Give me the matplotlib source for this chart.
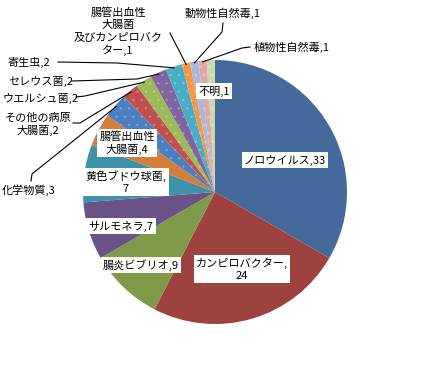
import numpy as np
import matplotlib
matplotlib.use("Agg")
import matplotlib.pyplot as plt

plt.rcParams['font.family'] = ['Noto Sans CJK JP', 'DejaVu Sans']
plt.rcParams['hatch.linewidth'] = 0.8

# data (clockwise from 12 o'clock)
names = ["ノロウイルス", "カンピロバクター", "腸炎ビブリオ", "サルモネラ", "黄色ブドウ球菌",
         "腸管出血性\n大腸菌", "化学物質", "その他の病原\n大腸菌", "ウエルシュ菌", "セレウス菌",
         "寄生虫", "腸管出血性\n大腸菌\n及びカンピロバク\nター", "動物性自然毒", "植物性自然毒", "不明"]
values = [33, 24, 9, 7, 7, 4, 3, 2, 2, 2, 2, 1, 1, 1, 1]

colors = ["#45699A", "#9E423F", "#7F9A48", "#6A5187", "#3D91A8", "#D27E3C",
          "#4A7EC0", "#C0504D", "#9BBB59", "#8064A2", "#4BACC6", "#F79646",
          "#A6BADD", "#E0A9A8", "#C9D9AB"]

H = 373
def px(x, y):
    return (x, H - y)

fig = plt.figure(figsize=(4.27, 3.73), dpi=100)
ax = fig.add_axes([0, 0, 1, 1])

cx, cy, r = 215, 192, 132
wedges, _ = ax.pie(values, colors=colors, startangle=90, counterclock=False,
                   center=px(cx, cy), radius=r, wedgeprops=dict(linewidth=0))
for i, w in enumerate(wedges):
    if i >= 6:
        w.set_hatch('..')
        w.set_edgecolor((1, 1, 1, 0.18))
        w.set_linewidth(0)

ax.set_xlim(0, 427)
ax.set_ylim(0, H)
ax.axis('off')

# labels: value on a new line for some
newline_value = {"カンピロバクター", "黄色ブドウ球菌"}
labels = [f"{n},\n{v}" if n in newline_value else f"{n},{v}" for n, v in zip(names, values)]

fs = 8

# inside labels: index -> pixel centre
inside = {0: (285, 160), 1: (242, 269), 2: (141, 265), 3: (121, 226),
          4: (126, 182), 5: (127, 143), 14: (214, 91)}
for i, (x, y) in inside.items():
    ax.text(*px(x, y), labels[i], ha='center', va='center', fontsize=fs,
            linespacing=1.25,
            bbox=dict(facecolor='white', edgecolor='none', pad=1.5))

# mid angles of slices
total = sum(values)
cum = np.cumsum([0] + values)
def edge_point(i, k=0.99):
    mid = (cum[i] + cum[i + 1]) / 2 / total
    ang = np.radians(90 - 360 * mid)
    return (cx + k * r * np.cos(ang), cy - k * r * np.sin(ang))

# outside labels: index -> (text pos, ha, leader start, elbow)
outside = {
    6: ((2, 190), 'left', (31, 181), (32, 174)),
    7: ((38, 124), 'center', (73, 123), (80, 123)),
    8: ((3, 98), 'left', (76, 97), (85, 96)),
    9: ((8, 81), 'left', (72, 81), (137, 79)),
    10: ((7, 62), 'left', (58, 62), (117, 63)),
    11: ((118, 32), 'center', (170, 33), (171, 35)),
    12: ((185, 13), 'left', (223, 23), (222, 32)),
    13: ((254, 47), 'left', (250, 47), (242, 48)),
}
for i, (tp, ha, start, elbow) in outside.items():
    ax.text(*px(*tp), labels[i], ha=ha, va='center', fontsize=fs, linespacing=1.25)
    end = edge_point(i)
    pts = [start, elbow, end]
    ax.plot([p[0] for p in pts], [H - p[1] for p in pts], color='black', lw=0.8)

fig.savefig("out.png", dpi=100)
